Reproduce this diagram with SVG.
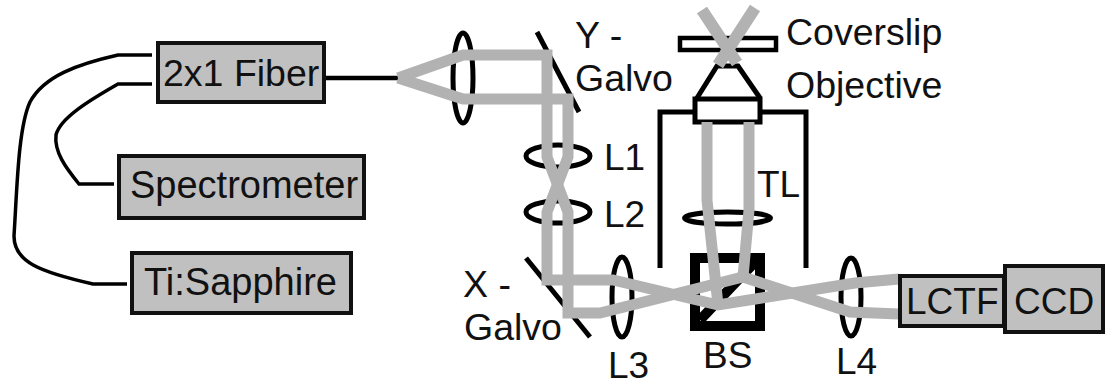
<svg xmlns="http://www.w3.org/2000/svg" width="1105" height="386" viewBox="0 0 1105 386">
<style>
text{font-family:"Liberation Sans",Arial,sans-serif;font-size:37.500px;fill:#111}
.s{font-size:37px}
.box{fill:#c0c0c0;stroke:#111;stroke-width:4}
.fib{fill:none;stroke:#000;stroke-width:3.500}
.opt{fill:none;stroke:#000;stroke-width:5}
.beam{fill:none;stroke:#b2b2b2;stroke-width:11;stroke-linejoin:miter}
</style>
<rect width="1105" height="386" fill="#fff"/>
<g id="connectors">
<path class="fib" d="M152 55H118C78 64 44 76 30 102C18 128 17 190 14 236C14 262 40 272 93 284H127"/>
<path class="fib" d="M152 84H118C90 100 60 118 56 135C54 152 66 168 79 184H114"/>
<path d="M325 78H398" fill="none" stroke="#000" stroke-width="4.500"/>
</g>
<g id="lens-collimator"><ellipse class="opt" cx="463" cy="78" rx="10" ry="45"/></g>
<g id="y-galvo"><path class="opt" d="M537 32L579 112"/></g>
<g id="x-galvo"><path class="opt" d="M526 258L590 337"/></g>
<g id="l1"><ellipse class="opt" cx="558" cy="156" rx="32" ry="11"/></g>
<g id="l2"><ellipse class="opt" cx="558" cy="212" rx="32" ry="11"/></g>
<g id="tl"><ellipse class="opt" cx="727.500" cy="218" rx="43" ry="6"/></g>
<g id="l3"><ellipse class="opt" cx="622" cy="297" rx="10" ry="40"/></g>
<g id="l4"><ellipse class="opt" cx="851" cy="297" rx="10" ry="39"/></g>
<g id="tube"><path class="opt" d="M660 268V112H806V268"/></g>
<g id="coverslip"><rect x="680" y="38" width="96" height="12" fill="#fff" stroke="#000" stroke-width="4.500"/></g>
<g id="objective"><path class="opt" d="M697 98L717 66H738L760 98"/><rect x="695" y="99" width="65" height="23" fill="#fff" stroke="#000" stroke-width="5"/></g>
<g id="bs"><rect x="695" y="258" width="65" height="68" fill="none" stroke="#000" stroke-width="10"/><path d="M700 320L755 262" stroke="#000" stroke-width="10"/></g>
<g id="beams">
<path class="beam" d="M398 78L463 55H547V157L568 212V313H600L743 277L850 312L899 314"/>
<path class="beam" d="M398 78L463 99H568V157L547 212V280H613L718 305L855 283L899 279"/>
<path class="beam" d="M707 122V200L718 305"/>
<path class="beam" d="M749 122V210L743 277"/>
<path class="beam" d="M702 10L737 63M755 8L718 65" style="stroke-width:12"/>
</g>
<g id="fiber"><rect class="box" x="158" y="43" width="166" height="59"/><text x="163" y="86">2x1 Fiber</text></g>
<g id="spectrometer"><rect class="box" x="119" y="156" width="245" height="62"/><text x="130" y="198" style="font-size:38px">Spectrometer</text></g>
<g id="sapphire"><rect class="box" x="132" y="253" width="219" height="60"/><text x="144" y="295" style="font-size:38px">Ti:Sapphire</text></g>
<g id="lctf"><rect class="box" x="900" y="276" width="104" height="50"/><text class="s" x="906" y="314">LCTF</text></g>
<g id="ccd"><rect class="box" x="1005" y="266" width="98" height="66"/><text class="s" x="1014" y="314">CCD</text></g>
<g id="labels">
<text x="575" y="48">Y -</text><text x="575" y="91">Galvo</text>
<text x="786" y="45">Coverslip</text><text x="786" y="98">Objective</text>
<text class="s" x="604" y="170">L1</text><text class="s" x="604" y="227">L2</text><text class="s" x="757" y="197">TL</text>
<text x="463" y="297">X -</text><text x="464" y="340">Galvo</text>
<text class="s" x="608" y="378">L3</text><text class="s" x="703" y="368">BS</text><text class="s" x="836" y="374">L4</text>
</g>
</svg>
